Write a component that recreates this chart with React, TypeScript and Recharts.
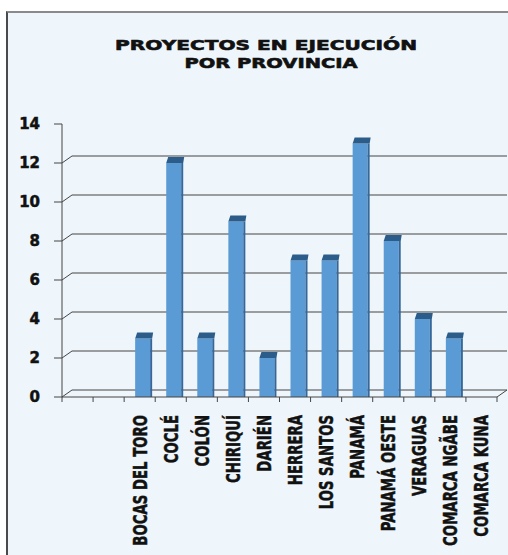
import React from 'react';
import { BarChart, Bar, XAxis, YAxis, CartesianGrid } from 'recharts';

// two empty slots come first on the category axis, as in the original
const provincias = [
  '',
  ' ',
  'BOCAS DEL TORO',
  'COCLÉ',
  'COLÓN',
  'CHIRIQUÍ',
  'DARIÉN',
  'HERRERA',
  'LOS SANTOS',
  'PANAMÁ',
  'PANAMÁ OESTE',
  'VERAGUAS',
  'COMARCA NGÃBE',
  'COMARCA KUNA',
];
const proyectos: (number | null)[] = [null, null, 3, 12, 3, 9, 2, 7, 7, 13, 8, 4, 3, 0];
const yTicks = [0, 2, 4, 6, 8, 10, 12, 14];

const data = provincias.map((provincia, i) => ({ provincia, proyectos: proyectos[i] }));

const W = 508;
const H = 555;
const MARGIN = { top: 124, right: 11, bottom: 0, left: 0 };
const Y_AXIS_W = 62;
const X_AXIS_H = 158;
const PLOT_W = W - MARGIN.left - MARGIN.right - Y_AXIS_W;
const BAND = PLOT_W / provincias.length;
const AXIS_Y = H - MARGIN.bottom - X_AXIS_H;
const DEPTH_X = 10;
const DEPTH_Y = 7;
const LINE = '#454545';

const wideFont = "'DejaVu Sans', Verdana, sans-serif";

// back-wall gridlines with the little diagonal joining them to the front axis
const gridLine = (props: any) => {
  const { x1, y1, x2, index } = props;
  if (y1 <= MARGIN.top + 1) return <g key={`grid-${index}`} />;
  const isFloor = y1 >= AXIS_Y - 1;
  return (
    <g key={`grid-${index}`}>
      <line x1={x1} y1={y1} x2={x1 + DEPTH_X} y2={y1 - DEPTH_Y} stroke={LINE} strokeWidth={1} />
      <line x1={x1 + DEPTH_X} y1={y1 - DEPTH_Y} x2={x2 + DEPTH_X} y2={y1 - DEPTH_Y} stroke={LINE} strokeWidth={1} />
      {isFloor && <line x1={x2} y1={y1} x2={x2 + DEPTH_X} y2={y1 - DEPTH_Y} stroke={LINE} strokeWidth={1} />}
    </g>
  );
};

// rotated labels, squeezed along the reading direction to look like a condensed face
const ProvinceTick = (props: any) => {
  const { x, payload, index } = props;
  const ty = 415;
  return (
    <g>
      <line x1={x - BAND / 2} y1={AXIS_Y} x2={x - BAND / 2} y2={AXIS_Y + 5} stroke={LINE} />
      {index === provincias.length - 1 && (
        <line x1={x + BAND / 2} y1={AXIS_Y} x2={x + BAND / 2} y2={AXIS_Y + 5} stroke={LINE} />
      )}
      <text
        x={0}
        y={0}
        dy="0.36em"
        transform={`translate(${x}, ${ty}) rotate(-90) scale(0.7, 1)`}
        textAnchor="end"
        fontFamily={wideFont}
        fontWeight={700}
        fontSize={19}
        fill="#111"
        stroke="#111"
        strokeWidth={0.5}
      >
        {payload.value.trim()}
      </text>
    </g>
  );
};

// flat bar with a dark top face and side to fake the 3D look
const Bar3D = (props: any) => {
  const { x, y, width, height } = props;
  if (!height || height <= 0) return null;
  const fx = x + 4;
  const side = 2;
  return (
    <g>
      <rect x={fx} y={y} width={width - side} height={height} fill="#5b9bd5" />
      <rect x={fx + width - side} y={y} width={side} height={height} fill="#35679a" />
      <polygon
        points={`${fx},${y} ${fx + 2},${y - 6} ${fx + width + 1},${y - 6} ${fx + width},${y}`}
        fill="#2c5d8a"
      />
    </g>
  );
};

export default function App() {
  return (
    <div style={{ position: 'absolute', left: 0, top: 0, width: W, height: H, background: '#fff', overflow: 'hidden' }}>
      <div
        style={{
          position: 'absolute',
          left: 6,
          top: 11,
          right: 0,
          bottom: 0,
          background: '#eef6fb',
          borderTop: '2px solid #8a8a8a',
          borderLeft: '2px solid #4a4a4a',
        }}
      />
      <svg width={W} height={90} style={{ position: 'absolute', left: 0, top: 0 }}>
        <text x={266} y={50} textAnchor="middle" fontFamily={wideFont} fontWeight={700} fontSize={14} fill="#111" stroke="#111" strokeWidth={0.6} textLength={302} lengthAdjust="spacingAndGlyphs">
          PROYECTOS EN EJECUCIÓN
        </text>
        <text x={271} y={68} textAnchor="middle" fontFamily={wideFont} fontWeight={700} fontSize={14} fill="#111" stroke="#111" strokeWidth={0.6} textLength={173} lengthAdjust="spacingAndGlyphs">
          POR PROVINCIA
        </text>
      </svg>
      <div style={{ position: 'absolute', left: 0, top: 0 }}>
        <BarChart width={W} height={H} data={data} margin={MARGIN} barSize={17}>
          <CartesianGrid vertical={false} horizontal={gridLine} />
          <XAxis
            dataKey="provincia"
            interval={0}
            height={X_AXIS_H}
            tickLine={false}
            axisLine={{ stroke: LINE }}
            tick={<ProvinceTick />}
          />
          <YAxis
            type="number"
            domain={[0, 14]}
            ticks={yTicks}
            width={Y_AXIS_W}
            tickSize={8}
            tickMargin={14}
            axisLine={{ stroke: LINE }}
            tickLine={{ stroke: LINE }}
            tick={{ fontFamily: wideFont, fontWeight: 700, fontSize: 15, fill: '#111', stroke: '#111', strokeWidth: 0.5 }}
          />
          <Bar dataKey="proyectos" shape={<Bar3D />} isAnimationActive={false} />
        </BarChart>
      </div>
    </div>
  );
}
